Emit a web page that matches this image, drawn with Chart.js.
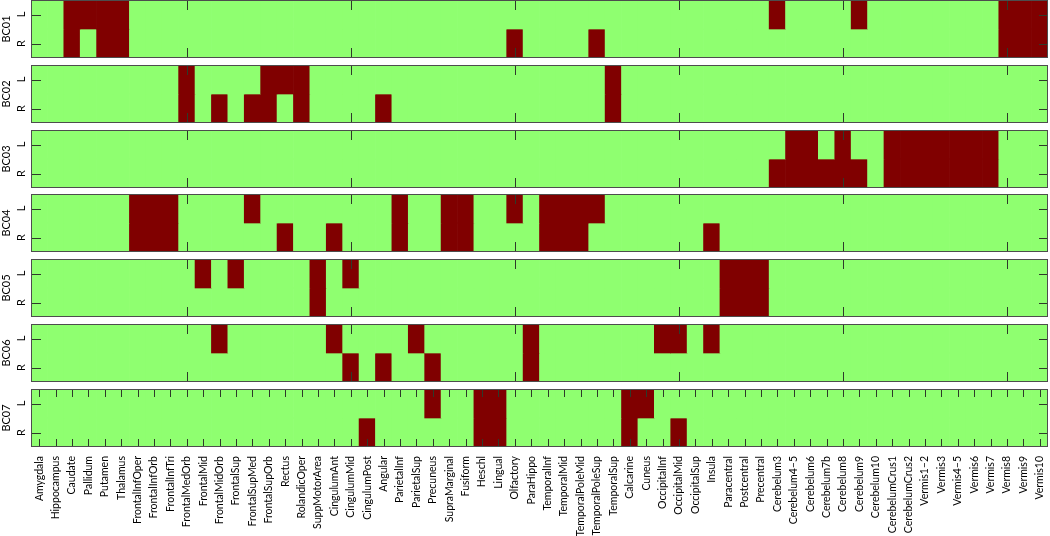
<!DOCTYPE html>
<html lang="en">
<head>
<meta charset="UTF-8">
<title>BC01-BC07 regions</title>
<script src="https://cdn.jsdelivr.net/npm/chart.js@4.4.0/dist/chart.umd.min.js"></script>
<style>
  body { margin: 0; background: #fff; }
  #wrap { position: relative; width: 1050px; height: 536px; overflow: hidden; }
  #wrap canvas { position: absolute; left: 0; }
</style>
</head>
<body>
<div id="wrap"></div>
<script>
// brain regions, one column each
const regions = ['Amygdala', 'Hippocampus', 'Caudate', 'Pallidum', 'Putamen', 'Thalamus',
  'FrontalInfOper', 'FrontalInfOrb', 'FrontalInfTri', 'FrontalMedOrb', 'FrontalMid', 'FrontalMidOrb',
  'FrontalSup', 'FrontalSupMed', 'FrontalSupOrb', 'Rectus', 'RolandicOper', 'SuppMotorArea',
  'CingulumAnt', 'CingulumMid', 'CingulumPost', 'Angular', 'ParietalInf', 'ParietalSup', 'Precuneus',
  'SupraMarginal', 'Fusiform', 'Heschl', 'Lingual', 'Olfactory', 'ParaHippo', 'TemporalInf',
  'TemporalMid', 'TemporalPoleMid', 'TemporalPoleSup', 'TemporalSup', 'Calcarine', 'Cuneus',
  'OccipitalInf', 'OccipitalMid', 'OccipitalSup', 'Insula', 'Paracentral', 'Postcentral', 'Precentral',
  'Cerebelum3', 'Cerebelum4–5', 'Cerebelum6', 'Cerebelum7b', 'Cerebelum8', 'Cerebelum9', 'Cerebelum10',
  'CerebelumCrus1', 'CerebelumCrus2', 'Vermis1–2', 'Vermis3', 'Vermis4–5', 'Vermis6', 'Vermis7',
  'Vermis8', 'Vermis9', 'Vermis10'];

const subjects = ['BC01', 'BC02', 'BC03', 'BC04', 'BC05', 'BC06', 'BC07'];
const sides = ['L', 'R'];

// regions marked (dark red) for each subject, left and right
const bc01L = ['Caudate', 'Pallidum', 'Putamen', 'Thalamus', 'Cerebelum3', 'Cerebelum9', 'Vermis8', 'Vermis9', 'Vermis10'];
const bc01R = ['Caudate', 'Putamen', 'Thalamus', 'Olfactory', 'TemporalPoleSup', 'Vermis8', 'Vermis9', 'Vermis10'];
const bc02L = ['FrontalMedOrb', 'FrontalSupOrb', 'Rectus', 'RolandicOper', 'TemporalSup'];
const bc02R = ['FrontalMedOrb', 'FrontalMidOrb', 'FrontalSupMed', 'FrontalSupOrb', 'RolandicOper', 'Angular', 'TemporalSup'];
const bc03L = ['Cerebelum4–5', 'Cerebelum6', 'Cerebelum8', 'CerebelumCrus1', 'CerebelumCrus2',
  'Vermis1–2', 'Vermis3', 'Vermis4–5', 'Vermis6', 'Vermis7'];
const bc03R = ['Cerebelum3', 'Cerebelum4–5', 'Cerebelum6', 'Cerebelum7b', 'Cerebelum8', 'Cerebelum9',
  'CerebelumCrus1', 'CerebelumCrus2', 'Vermis1–2', 'Vermis3', 'Vermis4–5', 'Vermis6', 'Vermis7'];
const bc04L = ['FrontalInfOper', 'FrontalInfOrb', 'FrontalInfTri', 'FrontalSupMed', 'ParietalInf', 'SupraMarginal',
  'Fusiform', 'Olfactory', 'TemporalInf', 'TemporalMid', 'TemporalPoleMid', 'TemporalPoleSup'];
const bc04R = ['FrontalInfOper', 'FrontalInfOrb', 'FrontalInfTri', 'Rectus', 'CingulumAnt', 'ParietalInf',
  'SupraMarginal', 'Fusiform', 'TemporalInf', 'TemporalMid', 'TemporalPoleMid', 'Insula'];
const bc05L = ['FrontalMid', 'FrontalSup', 'SuppMotorArea', 'CingulumMid', 'Paracentral', 'Postcentral', 'Precentral'];
const bc05R = ['SuppMotorArea', 'Paracentral', 'Postcentral', 'Precentral'];
const bc06L = ['FrontalMidOrb', 'CingulumAnt', 'ParietalSup', 'ParaHippo', 'OccipitalInf', 'OccipitalMid', 'Insula'];
const bc06R = ['CingulumMid', 'Angular', 'Precuneus', 'ParaHippo'];
const bc07L = ['Precuneus', 'Heschl', 'Lingual', 'Calcarine', 'Cuneus'];
const bc07R = ['CingulumPost', 'Heschl', 'Lingual', 'Calcarine', 'OccipitalMid'];

const marked = [[bc01L, bc01R], [bc02L, bc02R], [bc03L, bc03R], [bc04L, bc04R],
  [bc05L, bc05R], [bc06L, bc06R], [bc07L, bc07R]];

const GREEN = '#8fff70';
const RED = '#800000';
const FONT = '"Lato", "Liberation Sans", sans-serif';

// layout: one canvas per subject
const PANEL_STEP = 64.8;
const PANEL_H = 60;
const LAST_H = 148;
const AXIS_W = 31;
const LABELS_H = 89;

// frame, inward ticks and the rotated L / R labels (matlab style)
const frameTicks = {
  id: 'frameTicks',
  afterDatasetsDraw(chart, args, opts) {
    const { ctx, chartArea: a, scales: { x, y } } = chart;
    ctx.save();
    ctx.lineWidth = 1;
    ctx.strokeStyle = '#2e3a2a';
    ctx.beginPath();
    [2, 1].forEach(v => {
      const py = Math.round(y.getPixelForValue(v)) + 0.5;
      ctx.moveTo(a.left, py); ctx.lineTo(a.left + 10, py);
      ctx.moveTo(a.right, py); ctx.lineTo(a.right - 9, py);
    });
    regions.forEach((r, i) => {
      if (!opts.every && i % 10 !== 9) return;
      const px = Math.round(x.getPixelForValue(i)) + 0.5;
      const len = opts.every ? 8 : 10;
      ctx.moveTo(px, a.top); ctx.lineTo(px, a.top + len);
      ctx.moveTo(px, a.bottom); ctx.lineTo(px, a.bottom - len);
    });
    ctx.stroke();
    ctx.strokeStyle = '#4d4d4d';
    ctx.strokeRect(Math.round(a.left) + 0.5, Math.round(a.top) + 0.5,
      Math.round(a.right - a.left) - 1, Math.round(a.bottom - a.top) - 1);

    // L / R tick labels, written bottom to top
    ctx.fillStyle = '#000';
    ctx.font = '11px ' + FONT;
    ctx.textAlign = 'center';
    ctx.textBaseline = 'middle';
    [2, 1].forEach((v, k) => {
      ctx.save();
      ctx.translate(a.left - 10, y.getPixelForValue(v));
      ctx.rotate(-Math.PI / 2);
      ctx.fillText(sides[k], 0, 0);
      ctx.restore();
    });
    ctx.restore();
  }
};

function rowDataset(side, yVal, list) {
  return {
    label: side,
    data: regions.map(() => [yVal - 0.5, yVal + 0.5]),
    backgroundColor: regions.map(r => list.includes(r) ? RED : GREEN),
    borderWidth: 0,
    barPercentage: 1,
    categoryPercentage: 1,
    grouped: false
  };
}

const wrap = document.getElementById('wrap');

subjects.forEach((name, i) => {
  const last = i === subjects.length - 1;
  const canvas = document.createElement('canvas');
  const h = last ? LAST_H : PANEL_H;
  canvas.width = 1050;
  canvas.height = h;
  canvas.style.top = (Math.round(i * PANEL_STEP) - 1) + 'px';
  wrap.appendChild(canvas);

  new Chart(canvas, {
    type: 'bar',
    data: {
      labels: regions,
      datasets: [rowDataset(sides[0], 2, marked[i][0]), rowDataset(sides[1], 1, marked[i][1])]
    },
    options: {
      responsive: false,
      animation: false,
      events: [],
      devicePixelRatio: 1,
      layout: { padding: { top: 1, bottom: last ? 0 : 1, left: 0, right: 2 } },
      plugins: {
        legend: { display: false },
        tooltip: { enabled: false },
        frameTicks: { every: last }
      },
      scales: {
        x: {
          display: last,
          grid: { display: false },
          border: { display: false },
          ticks: {
            autoSkip: false,
            minRotation: 90,
            maxRotation: 90,
            padding: 1,
            color: '#000',
            font: { family: FONT, size: 10.5 }
          },
          afterFit: s => {
            if (last) s.height = LABELS_H;
            s.paddingLeft = 0;
            s.paddingRight = 0;
          }
        },
        y: {
          min: 0.5,
          max: 2.5,
          grid: { display: false },
          border: { display: false },
          afterBuildTicks: s => { s.ticks = [{ value: 2 }, { value: 1 }]; },
          ticks: { display: false },
          title: {
            display: true,
            text: name,
            padding: 0,
            color: '#000',
            font: { family: FONT, size: 11 }
          },
          afterFit: s => {
            s.width = AXIS_W;
            s.paddingTop = 0;
            s.paddingBottom = 0;
          }
        }
      }
    },
    plugins: [frameTicks]
  });
});
</script>
</body>
</html>
